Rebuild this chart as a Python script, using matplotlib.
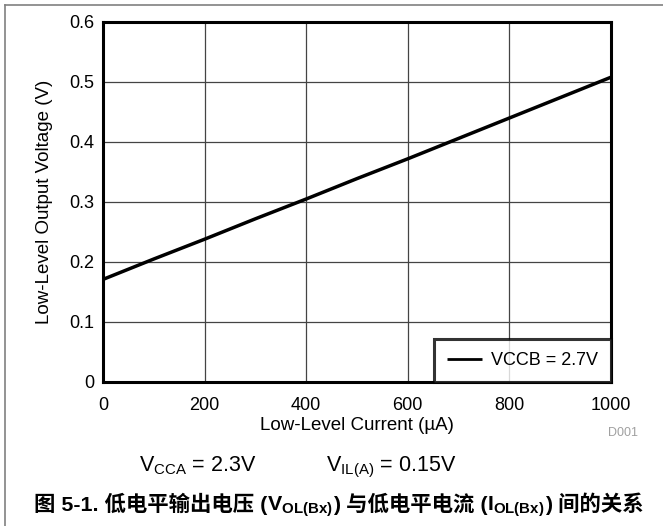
import matplotlib
matplotlib.use("Agg")
import matplotlib.pyplot as plt
from matplotlib.lines import Line2D

plt.rcParams['font.family'] = ['Liberation Sans', 'Noto Sans CJK SC', 'DejaVu Sans']
plt.rcParams['mathtext.fontset'] = 'custom'
plt.rcParams['mathtext.rm'] = 'Liberation Sans'
plt.rcParams['mathtext.it'] = 'Liberation Sans:italic'
plt.rcParams['mathtext.bf'] = 'Liberation Sans:bold'

# data
current_ua = [0, 100, 200, 300, 400, 500, 600, 700, 800, 900, 1000]
vol_v = [0.171, 0.205, 0.238, 0.272, 0.305, 0.339, 0.372, 0.406, 0.440, 0.474, 0.508]
series_label = 'VCCB = 2.7V'
x_ticks = [0, 200, 400, 600, 800, 1000]
y_ticks = [0, 0.1, 0.2, 0.3, 0.4, 0.5, 0.6]
y_ticklabels = ['0', '0.1', '0.2', '0.3', '0.4', '0.5', '0.6']

W, H = 663, 526
fig = plt.figure(figsize=(W / 100, H / 100), dpi=100)
ax = fig.add_axes([103 / W, 1 - 382 / H, 508 / W, 360 / H])

ax.plot(current_ua, vol_v, color='black', lw=2.5, label=series_label, solid_capstyle='butt')
ax.set_xlim(0, 1000)
ax.set_ylim(0, 0.6)
ax.set_xticks(x_ticks)
ax.set_yticks(y_ticks)
ax.set_xticklabels([str(t) for t in x_ticks])
ax.set_yticklabels(y_ticklabels)
ax.tick_params(length=0, labelsize=13)
ax.tick_params(axis='x', pad=11)
ax.tick_params(axis='y', pad=6)
ax.grid(True, color='#444444', lw=0.9)
for s in ax.spines.values():
    s.set_linewidth(2.2)
ax.set_xlabel('Low-Level Current (µA)', fontsize=13.5, va='center')
ax.xaxis.set_label_coords(0.5, (382 - 426) / 360)
ax.set_ylabel('Low-Level Output Voltage (V)', fontsize=13.5, va='center')
ax.yaxis.set_label_coords((45 - 103) / 508, 0.5)

leg = ax.legend(loc='lower right', fontsize=13, frameon=True, fancybox=False,
                handlelength=1.95, borderaxespad=0, borderpad=0.72, handletextpad=0.5)
leg.get_frame().set_edgecolor('black')
leg.get_frame().set_linewidth(2.2)
for ln in leg.get_lines():
    ln.set_linewidth(2)

fig.text(638 / W, 1 - 433 / H, 'D001', color='#a0a0a0', fontsize=9, ha='right', va='center')
fig.text(139 / W, 1 - 471 / H, r'V$_{\mathrm{CCA}}$ = 2.3V', fontsize=15.5, va='baseline')
fig.text(326 / W, 1 - 471 / H, r'V$_{\mathrm{IL(A)}}$ = 0.15V', fontsize=15.5, va='baseline')

# caption: CJK pieces and mathtext pieces placed one after another
cap_parts = ['图 5-1. 低电平输出电压 (', r'$\mathbf{V}_{\mathbf{OL(Bx)}}$', ') 与低电平电流 (',
             r'$\mathbf{I}_{\mathbf{OL(Bx)}}$', ') 间的关系']
renderer = fig.canvas.get_renderer()
x_px = 34
for part in cap_parts:
    t = fig.text(x_px / W, 1 - 511 / H, part, fontsize=15.4, fontweight='bold', va='baseline',
                 family=['Liberation Sans', 'Noto Sans CJK SC', 'DejaVu Sans'])
    x_px = t.get_window_extent(renderer).x1

# outer frame (top and left edges only)
fig.add_artist(Line2D([4.5 / W, 4.5 / W], [0, 1 - 4.5 / H], color='#808080', lw=1.2))
fig.add_artist(Line2D([4.5 / W, 1], [1 - 4.5 / H, 1 - 4.5 / H], color='#808080', lw=1.2))

fig.savefig('out.png', dpi=100)
